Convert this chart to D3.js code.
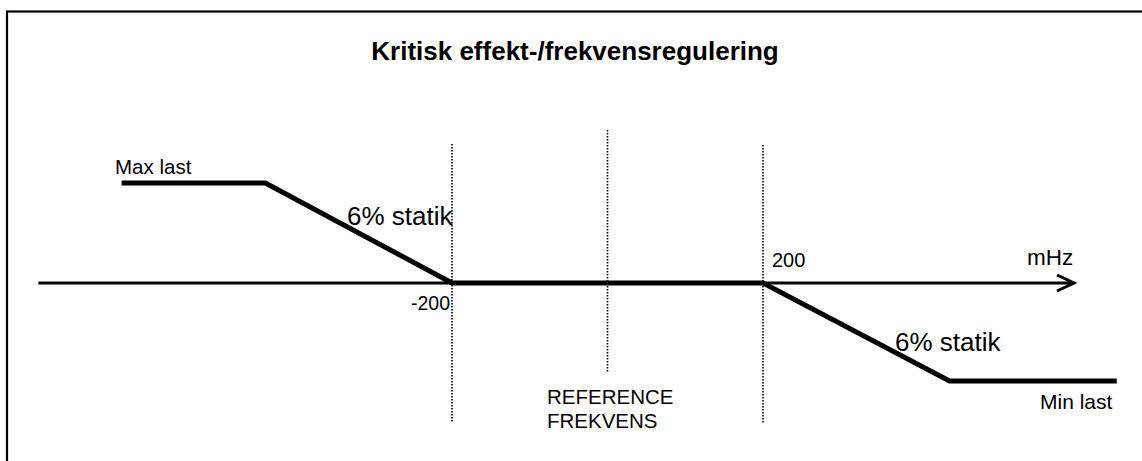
<!DOCTYPE html>
<html lang="en">
<head>
  <meta charset="UTF-8" />
  <title>Kritisk effekt-/frekvensregulering</title>
  <script src="https://d3js.org/d3.v7.min.js"></script>
  <style>
    * { margin: 0; padding: 0; }
    body { background: #fff; width: 1142px; height: 461px; overflow: hidden; }
    svg { display: block; font-family: 'Liberation Sans', Arial, sans-serif; }
  </style>
</head>
<body>
  <svg id="chart" width="1142" height="461"></svg>

  <script>
    // control curve: frequency deviation (mHz) vs load (max = 1, min = -1)
    const curveMHz  = [-625, -440, -200, 200, 440, 655];
    const curveLoad = [1, 1, 0, 0, -0.98, -0.98];
    // dead band limits and reference frequency
    const bandMHz   = [-200, 0, 200];
    const tickLabels = ['-200', '200'];
    const axisExtent = [-732, 600];

    const svg = d3.select('#chart');
    const x = d3.scaleLinear().domain([-200, 200]).range([452, 763]);
    const y = d3.scaleLinear().domain([-1, 1]).range([383, 183]);

    // frame (only top and left visible)
    svg.append('rect')
      .attr('x', 7).attr('y', 11.5)
      .attr('width', 2000).attr('height', 1000)
      .attr('fill', 'none').attr('stroke', '#000').attr('stroke-width', 2.2);

    svg.append('text')
      .attr('x', 575).attr('y', 60)
      .attr('text-anchor', 'middle')
      .attr('font-size', 26).attr('font-weight', 'bold')
      .text('Kritisk effekt-/frekvensregulering');

    // dotted vertical guides
    const guideTop = [144, 130, 145];
    const guideBottom = [423, 373, 423];
    svg.selectAll('line.guide').data(bandMHz).enter().append('line')
      .attr('class', 'guide')
      .attr('x1', d => x(d)).attr('x2', d => x(d))
      .attr('y1', (d, i) => guideTop[i]).attr('y2', (d, i) => guideBottom[i])
      .attr('stroke', '#000').attr('stroke-width', 1.6)
      .attr('stroke-dasharray', '1.5,1.5');

    // frequency axis with arrow
    const y0 = y(0);
    svg.append('line')
      .attr('x1', x(axisExtent[0])).attr('x2', x(axisExtent[1]))
      .attr('y1', y0).attr('y2', y0)
      .attr('stroke', '#000').attr('stroke-width', 3);
    const tip = x(axisExtent[1]);
    svg.append('path')
      .attr('d', `M${tip - 17},${y0 - 8} L${tip},${y0} L${tip - 17},${y0 + 8}`)
      .attr('fill', 'none').attr('stroke', '#000').attr('stroke-width', 3)
      .attr('stroke-linejoin', 'miter');

    // regulation curve
    const pts = curveMHz.map((m, i) => [x(m), y(curveLoad[i])]);
    svg.append('path')
      .attr('d', d3.line()(pts))
      .attr('fill', 'none').attr('stroke', '#000').attr('stroke-width', 5)
      .attr('stroke-linejoin', 'miter');

    const lbl = (tx, ty, s, size, anchor) => svg.append('text')
      .attr('x', tx).attr('y', ty).attr('font-size', size)
      .attr('text-anchor', anchor || 'start').text(s);

    lbl(x(-200) - 2, 310, tickLabels[0], 19.5, 'end');
    lbl(x(200) + 9, 267, tickLabels[1], 20);
    lbl(1027, 265, 'mHz', 22.5);
    lbl(115, 174, 'Max last', 20.5);
    lbl(1040, 409, 'Min last', 21);
    lbl(347, 225, '6% statik', 26);
    lbl(895, 351, '6% statik', 26);
    lbl(547, 404, 'REFERENCE', 20.5);
    lbl(547, 428, 'FREKVENS', 20.5);
  </script>
</body>
</html>
